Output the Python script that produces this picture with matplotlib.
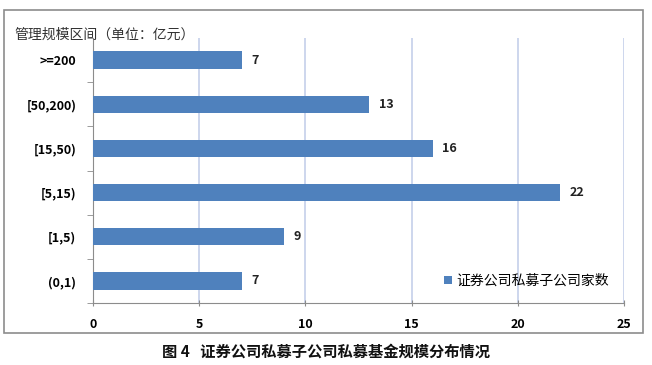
import matplotlib.pyplot as plt
from matplotlib.patches import Rectangle

plt.rcParams['font.family'] = ['Noto Sans CJK SC', 'DejaVu Sans']

categories = ['>=200', '[50,200)', '[15,50)', '[5,15)', '[1,5)', '(0,1)']
counts = [7, 13, 16, 22, 9, 7]
series_name = '证券公司私募子公司家数'
xticks = [0, 5, 10, 15, 20, 25]

fig = plt.figure(figsize=(6.52, 3.65), dpi=100)
ax = fig.add_axes([93 / 652, 1 - 303 / 365, (624 - 93) / 652, (303 - 38) / 365])

# outer chart border
fig.patches.append(Rectangle((4 / 652, 1 - 333 / 365), 639 / 652, 323 / 365,
                             transform=fig.transFigure, fill=False,
                             edgecolor='#8c8c8c', linewidth=1.2))

ypos = list(range(len(categories)))
ax.barh(ypos, counts, height=0.39, color='#4F81BD', label=series_name, zorder=3)
for y, v in zip(ypos, counts):
    ax.text(v + 0.45, y, str(v), va='center', ha='left', fontsize=9,
            fontweight='bold', color='#222222')

ax.set_xlim(0, 25)
ax.set_ylim(5.5, -0.5)
ax.set_xticks(xticks)
ax.set_xticklabels([str(t) for t in xticks], fontsize=9, fontweight='bold')
ax.set_yticks(ypos)
ax.set_yticklabels(categories, fontsize=9, fontweight='bold')
ax.tick_params(axis='y', length=0, pad=12)
ax.set_yticks([i + 0.5 for i in range(-1, len(categories))], minor=True)
ax.tick_params(axis='y', which='minor', length=4, color='#8c8c8c', direction='out')
ax.tick_params(axis='x', length=5, color='#8c8c8c', direction='inout', pad=8)

ax.grid(axis='x', color='#c5d0ea', linewidth=1.2, zorder=0)
for s in ['top', 'right']:
    ax.spines[s].set_visible(False)
for s in ['left', 'bottom']:
    ax.spines[s].set_color('#8c8c8c')

fig.text(14 / 652, 1 - 35 / 365, '管理规模区间（单位：亿元）', fontsize=10,
         color='#333333', va='center', ha='left')

leg = ax.legend(loc='lower right', bbox_to_anchor=(0.995, 0.01), frameon=False,
                fontsize=10, handlelength=0.6, handleheight=0.6, handletextpad=0.3)

fig.text(0.5, 1 - 352 / 365, '图 4   证券公司私募子公司私募基金规模分布情况',
         fontsize=11, fontweight='bold', ha='center', va='center', color='#111111')

fig.savefig('out.png', dpi=100)
